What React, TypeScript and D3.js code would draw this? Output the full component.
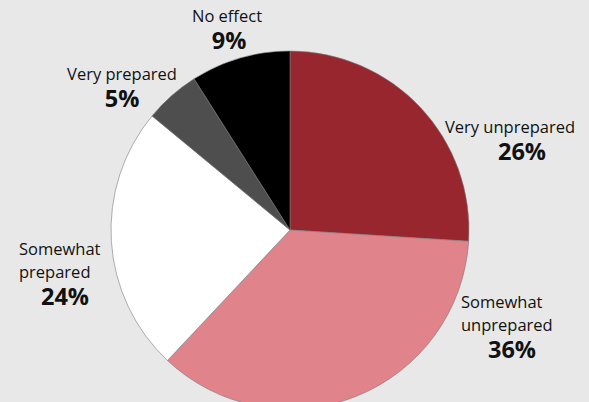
import React from "react";
import * as d3 from "d3";

const categories = ["Very unprepared", "Somewhat unprepared", "Somewhat prepared", "Very prepared", "No effect"];
const values = [26, 36, 24, 5, 9];
const colors = ["#98262f", "#e0838a", "#ffffff", "#4e4e4e", "#000000"];
const labelLines = [["Very unprepared"], ["Somewhat", "unprepared"], ["Somewhat", "prepared"], ["Very prepared"], ["No effect"]];

const W = 589;
const H = 402;
const cx = 290;
const cy = 230;
const R = 179;

// label layout: [x of text, first baseline, anchor, x of percent]
const labelPos: [number, number, string, number][] = [
  [510, 133, "middle", 522],
  [461, 308, "start", 512],
  [19, 255, "start", 65],
  [122, 80, "middle", 122],
  [227, 22, "middle", 229],
];

export default function App() {
  const pie = d3.pie<number>().sort(null).value((d) => d);
  const arcs = pie(values);
  const arc = d3.arc<d3.PieArcDatum<number>>().innerRadius(0).outerRadius(R);
  const font = "'Open Sans', 'Noto Sans', sans-serif";
  return (
    <svg width={W} height={H} style={{ position: "absolute", left: 0, top: 0, background: "#e8e8e8" }}>
      <rect width={W} height={H} fill="#e8e8e8" />
      <g transform={`translate(${cx},${cy})`}>
        {arcs.map((a, i) => (
          <path key={i} d={arc(a) || ""} fill={colors[i]} stroke="#7a7a7a" strokeWidth={0.6} />
        ))}
      </g>
      {labelPos.map(([x, y, anchor, px], i) => {
        const lines = labelLines[i];
        return (
          <g key={i} fontFamily={font} fill="#111">
            {lines.map((l, j) => (
              <text key={j} x={x} y={y + j * 23} textAnchor={anchor as any} fontSize={16.5}>
                {l}
              </text>
            ))}
            <text x={px} y={y + (lines.length - 1) * 23 + 27} textAnchor="middle" fontSize={23.5} fontWeight="bold">
              {values[i]}%
            </text>
          </g>
        );
      })}
    </svg>
  );
}
